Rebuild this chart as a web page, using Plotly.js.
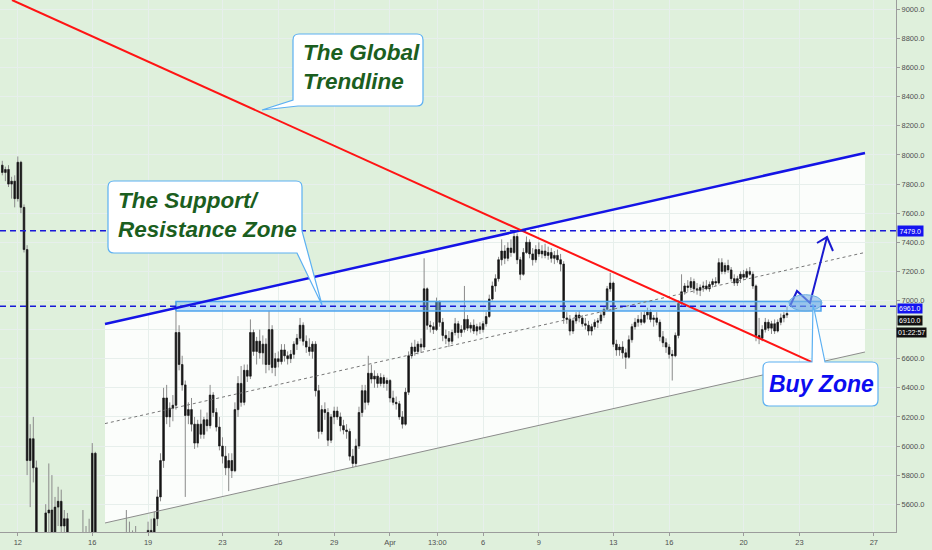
<!DOCTYPE html>
<html><head><meta charset="utf-8">
<script src="https://cdn.plot.ly/plotly-3.0.1.min.js"></script>
<style>html,body{margin:0;padding:0;background:#dff0dc;}#chart{width:932px;height:550px;}</style>
</head><body><div id="chart"></div>
<script>
// ---- 4h BTC candles ----
const candleStart = '2020-03-11T04:00:00Z';
const candleStepHours = 4;
const opens = [
7930,7880,7900,7800,7820,7700,7950,7640,7350,5900,
6050,5850,4900,4600,5100,5540,5560,5400,5580,5620,
5450,5500,5300,5250,5200,5150,5300,5350,5380,5400,
5950,5150,4800,4700,4900,5000,5050,5200,5300,5250,
5200,5350,5300,5380,5300,5250,5300,5350,5420,5400,
5500,5650,5900,6330,6200,6260,6280,6780,6560,6420,
6210,6250,6150,6020,6150,6080,6180,6140,6350,6230,
6130,6000,5930,5850,5900,5830,6250,6430,6300,6520,
6480,6780,6650,6720,6640,6700,6560,6800,6540,6600,
6580,6660,6620,6600,6630,6700,6740,6830,6720,6680,
6650,6700,6380,6100,6250,6230,6040,6200,6240,6200,
6140,6110,6100,5930,5880,6000,6230,6380,6300,6500,
6460,6480,6430,6470,6430,6450,6330,6300,6290,6200,
6150,6370,6620,6680,6650,6700,6680,7080,6830,6820,
6800,6990,6850,6760,6740,6720,6780,6840,6780,6800,
6870,6810,6830,6790,6820,6800,6840,6890,7010,7100,
7150,7280,7340,7290,7360,7330,7440,7280,7180,7330,
7400,7320,7280,7350,7320,7340,7310,7330,7290,7310,
7280,7250,6880,6870,6790,6860,6900,6880,6840,6830,
6790,6820,6850,6860,6900,6940,7080,7120,6700,6660,
6680,6640,6610,6730,6820,6850,6870,6850,6900,6920,
6870,6880,6850,6750,6710,6680,6630,6620,6760,6980,
7060,7100,7090,7130,7080,7070,7090,7100,7080,7110,
7130,7120,7260,7200,7240,7210,7150,7120,7150,7180,
7160,7200,7180,7100,6760,6740,6800,6850,6810,6840,
6790,6850,6880,6900];
const highs = [
7960,7920,7930,7850,7860,7990,7960,7660,7380,6150,
6200,5900,5000,5300,5600,5880,5800,5650,5720,5700,
5560,5540,5400,5350,5300,5350,5560,5450,5500,6020,
5960,5200,4900,5000,5100,5100,5300,5350,5400,5350,
5560,5480,5420,5450,5400,5350,5400,5480,5500,5550,
5700,5950,6400,6420,6300,6350,6990,6830,6620,6450,
6300,6330,6200,6180,6250,6200,6230,6420,6370,6260,
6200,6060,6000,5950,5950,6300,6480,6550,6560,6560,
6870,6800,6750,6800,6760,6740,6930,6830,6640,6650,
6700,6700,6650,6660,6720,6770,6880,6850,6760,6740,
6720,6720,6420,6280,6300,6260,6220,6270,6270,6230,
6180,6150,6120,5980,6050,6270,6420,6420,6620,6560,
6520,6500,6500,6490,6470,6460,6380,6340,6310,6240,
6400,6650,6710,6730,6720,6740,7290,7090,6860,6850,
7020,7000,6880,6800,6790,6800,6880,6860,6830,7100,
6900,6850,6870,6840,6850,6860,6920,7040,7130,7180,
7300,7420,7380,7400,7420,7480,7460,7300,7360,7440,
7420,7360,7380,7400,7380,7390,7370,7360,7340,7350,
7320,7270,6920,6900,6880,6920,6930,6900,6880,6860,
6840,6870,6880,6920,6960,7100,7190,7130,6730,6700,
6720,6670,6760,6840,6880,6900,6920,6930,6950,6940,
6900,6920,6870,6790,6740,6700,6660,6780,7000,7180,
7120,7140,7160,7150,7120,7110,7130,7140,7130,7150,
7160,7290,7290,7260,7280,7230,7180,7170,7200,7210,
7220,7230,7200,7110,6880,6830,6880,6870,6860,6870,
6870,6910,6920,6960];
const lows = [
7860,7820,7780,7700,7640,7680,7600,7330,5800,5580,
5750,4800,4400,3900,4900,5400,5300,5350,5450,5350,
5300,5200,5100,5100,5050,5100,5250,5200,5300,5350,
5100,4700,4450,4600,4800,4900,4950,5100,5150,5100,
5150,5250,5200,5250,5150,5200,5250,5300,5350,5380,
5450,5620,5850,6150,6130,6170,6250,6520,6380,5650,
6150,6100,5980,5990,6050,6050,6100,6120,6200,6100,
5970,5880,5800,5690,5780,5820,6200,6270,6280,6440,
6460,6620,6560,6600,6560,6500,6520,6500,6480,6540,
6560,6580,6560,6570,6600,6660,6720,6690,6640,6620,
6600,6340,6050,6080,6180,6000,6020,6150,6180,6100,
6080,6050,5900,5850,5860,5980,6200,6250,6280,6430,
6400,6400,6410,6400,6380,6300,6280,6250,6180,6120,
6140,6350,6600,6620,6630,6640,6660,6800,6780,6770,
6790,6820,6720,6700,6680,6700,6760,6740,6750,6780,
6790,6780,6770,6760,6770,6780,6820,6880,7000,7060,
7130,7240,7250,7270,7300,7320,7250,7140,7170,7320,
7290,7240,7260,7300,7290,7290,7280,7260,7250,7260,
7200,6840,6840,6760,6770,6840,6850,6820,6800,6760,
6760,6800,6810,6840,6880,6930,7060,6680,6620,6620,
6600,6530,6600,6710,6800,6820,6830,6840,6870,6850,
6820,6830,6720,6680,6640,6600,6450,6610,6740,6960,
7040,7060,7070,7050,7040,7030,7060,7070,7060,7090,
7100,7110,7180,7180,7190,7130,7100,7100,7120,7140,
7150,7170,7080,6720,6700,6720,6780,6790,6770,6770,
6780,6830,6850,6880];
const closes = [
7880,7900,7800,7820,7700,7950,7640,7350,5900,6050,
5850,4900,4600,5100,5540,5560,5400,5580,5620,5450,
5500,5300,5250,5200,5150,5300,5350,5380,5400,5950,
5150,4800,4700,4900,5000,5050,5200,5300,5250,5200,
5350,5300,5380,5300,5250,5300,5350,5420,5400,5500,
5650,5900,6330,6200,6260,6280,6780,6560,6420,6210,
6250,6150,6020,6150,6080,6180,6140,6350,6230,6130,
6000,5930,5850,5900,5830,6250,6430,6300,6520,6480,
6780,6650,6720,6640,6700,6560,6800,6540,6600,6580,
6660,6620,6600,6630,6700,6740,6830,6720,6680,6650,
6700,6380,6100,6250,6230,6040,6200,6240,6200,6140,
6110,6100,5930,5880,6000,6230,6380,6300,6500,6460,
6480,6430,6470,6430,6450,6330,6300,6290,6200,6150,
6370,6620,6680,6650,6700,6680,7080,6830,6820,6800,
6990,6850,6760,6740,6720,6780,6840,6780,6800,6870,
6810,6830,6790,6820,6800,6840,6890,7010,7100,7150,
7280,7340,7290,7360,7330,7440,7280,7180,7330,7400,
7320,7280,7350,7320,7340,7310,7330,7290,7310,7280,
7250,6880,6870,6790,6860,6900,6880,6840,6830,6790,
6820,6850,6860,6900,6940,7080,7120,6700,6660,6680,
6640,6610,6730,6820,6850,6870,6850,6900,6920,6870,
6880,6850,6750,6710,6680,6630,6620,6760,6980,7060,
7100,7090,7130,7080,7070,7090,7100,7080,7110,7130,
7120,7260,7200,7240,7210,7150,7120,7150,7180,7160,
7200,7180,7100,6760,6740,6800,6850,6810,6840,6790,
6850,6880,6900,6910];

// ---- drawings (time, price) ----
const channelTimes = ['2020-03-16 16:28', '2020-04-26 12:34'];
const channelUpper = [6838, 8014];
const channelMid   = [6154, 7330];
const channelLower = [5471, 6646];
const trendTimes  = ['2020-03-11 16:31', '2020-04-23 16:13'];
const trendPrices = [9065, 6577];
const levelPrices = [7479, 6961];
const zoneTimes  = ['2020-03-20 12:00', '2020-04-24 03:50'];
const zonePrices = [6928, 6993];
const buyZoneTimes  = ['2020-04-22 10:34', '2020-04-24 05:07'];
const buyZonePrices = [6928, 7040];
const projTimes  = ['2020-04-22 11:51', '2020-04-22 20:53', '2020-04-23 13:39', '2020-04-24 11:34'];
const projPrices = [6962, 7065, 6983, 7436];
const headTimes  = ['2020-04-23 22:41', '2020-04-24 11:34', '2020-04-24 19:18'];
const headPrices = [7395, 7436, 7340];
const countdownText = '01:22:57';

// ---- axes ----
const xTickDates  = ['2020-03-12','2020-03-16','2020-03-19','2020-03-23','2020-03-26','2020-03-29','2020-04-01','2020-04-03 13:00','2020-04-06','2020-04-09','2020-04-13','2020-04-16','2020-04-20','2020-04-23','2020-04-27'];
const xTickLabels = ['12','16','19','23','26','29','Apr','13:00','6','9','13','16','20','23','27'];
const priceTicks = [5600,5800,6000,6200,6400,6600,6800,7000,7200,7400,7600,7800,8000,8200,8400,8600,8800,9000];
// 6800.0 is hidden behind the countdown tag in the original, so its label is left blank
const priceTickLabels = ['5600.0','5800.0','6000.0','6200.0','6400.0','6600.0','','7000.0','7200.0','7400.0','7600.0','7800.0','8000.0','8200.0','8400.0','8600.0','8800.0','9000.0'];

const t0 = Date.parse(candleStart);
const times = opens.map((_, i) => new Date(t0 + i * candleStepHours * 3600e3).toISOString().slice(0, 16).replace('T', ' '));
const bodyTop = opens.map((o, i) => Math.max(o, closes[i]));
const bodyBot = opens.map((o, i) => Math.min(o, closes[i]));
const ms = s => Date.parse(s.replace(' ', 'T') + ':00Z');

const W = 896, H = 532; // plot area in px
const P = (px, py) => (px / W).toFixed(5) + ',' + (1 - py / H).toFixed(5);

const wickStyle = { line: { color: '#8a8a8a', width: 1 }, fillcolor: '#8a8a8a' };
const bodyStyle = { line: { color: '#161616', width: 0.5 }, fillcolor: '#161616' };
const traces = [
  { type: 'candlestick', x: times, open: opens, high: highs, low: lows, close: closes,
    increasing: wickStyle, decreasing: wickStyle, whiskerwidth: 0, hoverinfo: 'skip' },
  { type: 'candlestick', x: times, open: opens, high: bodyTop, low: bodyBot, close: closes,
    increasing: bodyStyle, decreasing: bodyStyle, whiskerwidth: 0, hoverinfo: 'skip' },
  { type: 'scatter', mode: 'lines', x: [zoneTimes[0], zoneTimes[1], zoneTimes[1], zoneTimes[0], zoneTimes[0]],
    y: [zonePrices[0], zonePrices[0], zonePrices[1], zonePrices[1], zonePrices[0]],
    fill: 'toself', fillcolor: 'rgba(120,186,240,0.45)', line: { color: '#4ea4ee', width: 1.5 }, hoverinfo: 'skip' },
  { type: 'scatter', mode: 'lines', x: channelTimes, y: channelMid, line: { color: '#777', width: 1, dash: '3px,3px' }, hoverinfo: 'skip' },
  { type: 'scatter', mode: 'lines', x: channelTimes, y: channelLower, line: { color: '#8c8c8c', width: 1 }, hoverinfo: 'skip' },
  { type: 'scatter', mode: 'lines', x: channelTimes, y: channelUpper, line: { color: '#1414e6', width: 2.5 }, hoverinfo: 'skip' },
  { type: 'scatter', mode: 'lines', x: trendTimes, y: trendPrices, line: { color: '#ff1414', width: 2 }, hoverinfo: 'skip' },
  { type: 'scatter', mode: 'lines', x: projTimes, y: projPrices, line: { color: '#1a1ad0', width: 2 }, hoverinfo: 'skip' },
  { type: 'scatter', mode: 'lines', x: headTimes, y: headPrices, line: { color: '#1a1ad0', width: 2 }, hoverinfo: 'skip' }
];

const bubbleLine = { color: '#5cb0f2', width: 1.2 };
const shapes = [
  { type: 'path', xref: 'x', yref: 'y', layer: 'below', fillcolor: 'rgba(253,254,253,0.93)', line: { width: 0 },
    path: `M${ms(channelTimes[0])},${channelUpper[0]} L${ms(channelTimes[1])},${channelUpper[1]} L${ms(channelTimes[1])},${channelLower[1]} L${ms(channelTimes[0])},${channelLower[0]} Z` },
  ...levelPrices.map(p => ({ type: 'line', xref: 'paper', x0: 0, x1: 1, yref: 'y', y0: p, y1: p,
    line: { color: '#1818d8', width: 1.5, dash: '6px,4px' }, layer: 'above' })),
  { type: 'circle', xref: 'x', yref: 'y', x0: buyZoneTimes[0], x1: buyZoneTimes[1], y0: buyZonePrices[0], y1: buyZonePrices[1],
    fillcolor: 'rgba(125,178,228,0.6)', line: { color: '#6aaee2', width: 1 }, layer: 'above' },
  { type: 'path', xref: 'paper', yref: 'paper', layer: 'above', fillcolor: '#ffffff', line: bubbleLine,
    path: `M${P(299,34)} L${P(417,34)} Q${P(423,34)} ${P(423,40)} L${P(423,100)} Q${P(423,106)} ${P(417,106)} L${P(298,106)} L${P(262,110)} L${P(293,100)} L${P(293,40)} Q${P(293,34)} ${P(299,34)} Z` },
  { type: 'path', xref: 'paper', yref: 'paper', layer: 'above', fillcolor: '#ffffff', line: bubbleLine,
    path: `M${P(114,181)} L${P(296,181)} Q${P(302,181)} ${P(302,187)} L${P(302,231)} L${P(322,305)} L${P(297,253)} L${P(114,253)} Q${P(108,253)} ${P(108,247)} L${P(108,187)} Q${P(108,181)} ${P(114,181)} Z` },
  { type: 'path', xref: 'paper', yref: 'paper', layer: 'above', fillcolor: '#ffffff', line: bubbleLine,
    path: `M${P(769,362)} L${P(812,362)} L${P(813,304)} L${P(825,362)} L${P(872,362)} Q${P(878,362)} ${P(878,368)} L${P(878,400)} Q${P(878,406)} ${P(872,406)} L${P(769,406)} Q${P(763,406)} ${P(763,400)} L${P(763,368)} Q${P(763,362)} ${P(769,362)} Z` }
];

const calloutFont = { family: 'Liberation Sans, Arial, sans-serif', size: 22.5, color: '#1b5e20' };
const labelFont = { family: 'Liberation Sans, Arial, sans-serif', size: 7, color: '#ffffff' };
const annotations = [
  { xref: 'paper', yref: 'paper', x: 301 / W, y: 1 - 67.5 / H, xanchor: 'left', yanchor: 'middle', align: 'left', showarrow: false,
    text: '<b><i>The Global<br>Trendline</i></b>', font: calloutFont },
  { xref: 'paper', yref: 'paper', x: 116 / W, y: 1 - 214.5 / H, xanchor: 'left', yanchor: 'middle', align: 'left', showarrow: false,
    text: '<b><i>The Support/<br>Resistance Zone</i></b>', font: calloutFont },
  { xref: 'paper', yref: 'paper', x: 821 / W, y: 1 - 384 / H, xanchor: 'center', yanchor: 'middle', showarrow: false,
    text: '<b><i>Buy Zone</i></b>', font: { family: 'Liberation Sans, Arial, sans-serif', size: 23, color: '#0c0cf0' } },
  { xref: 'paper', yref: 'y', x: 897 / W, y: levelPrices[0], xanchor: 'left', yanchor: 'middle', showarrow: false,
    text: levelPrices[0].toFixed(1), bgcolor: '#1414f0', borderpad: 1.5, font: labelFont },
  { xref: 'paper', yref: 'paper', x: 897 / W, y: 1 - 308.5 / H, xanchor: 'left', yanchor: 'middle', showarrow: false,
    text: levelPrices[1].toFixed(1), bgcolor: '#1414f0', borderpad: 1, font: labelFont },
  { xref: 'paper', yref: 'paper', x: 897 / W, y: 1 - 320.5 / H, xanchor: 'left', yanchor: 'middle', showarrow: false,
    text: closes[closes.length - 1].toFixed(1), bgcolor: '#111111', borderpad: 1, font: labelFont },
  { xref: 'paper', yref: 'paper', x: 896 / W, y: 1 - 332.5 / H, xanchor: 'left', yanchor: 'middle', showarrow: false,
    text: countdownText, bgcolor: '#111111', borderpad: 1, font: labelFont }
];

const tickFont = { family: 'Liberation Sans, Arial, sans-serif', size: 7.5, color: '#505050' };
const layout = {
  width: 932, height: 550, margin: { l: 0, r: 36, t: 0, b: 18 },
  paper_bgcolor: '#dff0dc', plot_bgcolor: '#dff0dc', showlegend: false,
  xaxis: { type: 'date', range: ['2020-03-11 01:03', '2020-04-28 04:34'], rangeslider: { visible: false },
    tickmode: 'array', tickvals: xTickDates, ticktext: xTickLabels, tickfont: tickFont,
    showgrid: true, gridcolor: '#e7efec', gridwidth: 1, zeroline: false,
    showline: true, linecolor: '#9c9c9c', linewidth: 1, ticks: 'outside', ticklen: 3, tickcolor: '#9c9c9c', fixedrange: true },
  yaxis: { side: 'right', range: [5409, 9065], tickmode: 'array', tickvals: priceTicks, ticktext: priceTickLabels, tickfont: tickFont,
    showgrid: true, gridcolor: '#e7efec', gridwidth: 1, zeroline: false,
    showline: true, linecolor: '#9c9c9c', linewidth: 1, ticks: 'outside', ticklen: 3, tickcolor: '#9c9c9c', fixedrange: true },
  shapes: shapes, annotations: annotations
};

Plotly.newPlot('chart', traces, layout, { displayModeBar: false, staticPlot: true });
</script>
</body></html>
